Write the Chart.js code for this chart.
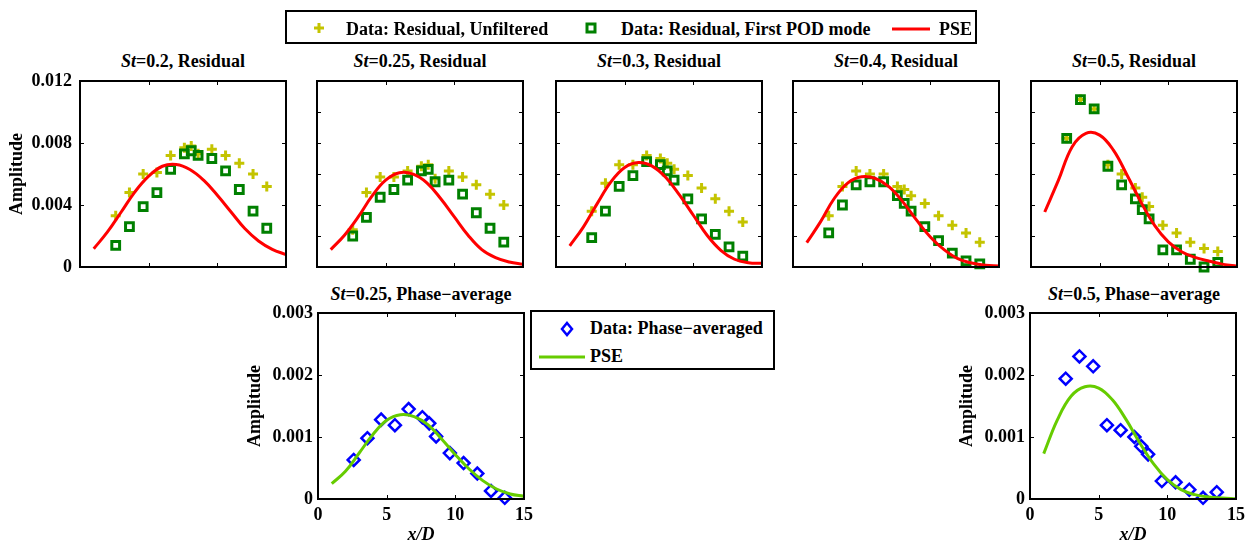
<!DOCTYPE html>
<html>
<head>
<meta charset="utf-8">
<script src="https://cdn.jsdelivr.net/npm/chart.js@4.4.1/dist/chart.umd.min.js"></script>
<style>
  body { margin: 0; width: 1247px; height: 544px; position: relative; overflow: hidden; background: #fff;
         font-family: "Liberation Serif", "Times New Roman", serif; font-weight: bold; color: #000; }
  canvas { position: absolute; }
  .title { position: absolute; font-size: 18px; white-space: nowrap; transform: translate(-50%, -50%); }
  .legend { position: absolute; border: 2px solid #000; background: #fff; box-sizing: border-box; z-index: 5; }
  .legend span, .legend svg { position: absolute; }
  .legend span { font-size: 18px; white-space: nowrap; transform: translateY(-50%); }
</style>
</head>
<body>

<div class="title" style="left:183px;top:61px"><i>St</i>=0.2, Residual</div>
<div class="title" style="left:420px;top:61px"><i>St</i>=0.25, Residual</div>
<div class="title" style="left:659px;top:61px"><i>St</i>=0.3, Residual</div>
<div class="title" style="left:896px;top:61px"><i>St</i>=0.4, Residual</div>
<div class="title" style="left:1134px;top:61px"><i>St</i>=0.5, Residual</div>
<div class="title" style="left:421px;top:294px"><i>St</i>=0.25, Phase−average</div>
<div class="title" style="left:1134px;top:294px"><i>St</i>=0.5, Phase−average</div>

<div class="legend" style="left:285px;top:10px;width:692px;height:34px">
  <svg style="left:26px;top:10px" width="12" height="12"><path d="M6 1V11M1 6H11" stroke="#c4c400" stroke-width="3"/></svg>
  <span style="left:59px;top:17px">Data: Residual, Unfiltered</span>
  <svg style="left:298px;top:10px" width="12" height="12"><rect x="2" y="2" width="8" height="8" fill="none" stroke="#008000" stroke-width="3"/></svg>
  <span style="left:334px;top:17px">Data: Residual, First POD mode</span>
  <svg style="left:605px;top:15px" width="38" height="4"><path d="M0 2H38" stroke="#ff0000" stroke-width="3"/></svg>
  <span style="left:652px;top:17px">PSE</span>
</div>

<div class="legend" style="left:530px;top:310px;width:245px;height:60px">
  <svg style="left:28px;top:9px" width="14" height="16"><polygon points="7,2 12,8 7,14 2,8" fill="none" stroke="#0000ff" stroke-width="2.5"/></svg>
  <span style="left:58px;top:16px">Data: Phase−averaged</span>
  <svg style="left:7px;top:43px" width="46" height="4"><path d="M0 2H46" stroke="#66cc00" stroke-width="3"/></svg>
  <span style="left:58px;top:44px">PSE</span>
</div>

<canvas id="p1" width="310" height="232"></canvas>
<canvas id="p2" width="310" height="232"></canvas>
<canvas id="p3" width="310" height="232"></canvas>
<canvas id="p4" width="310" height="232"></canvas>
<canvas id="p5" width="310" height="232"></canvas>
<canvas id="p6" width="310" height="261"></canvas>
<canvas id="p7" width="310" height="261"></canvas>

<script>
// measurement stations (x/D) and PSE sampling points
const dataX = [2.6, 3.6, 4.6, 5.6, 6.6, 7.6, 8.1, 8.6, 9.6, 10.6, 11.6, 12.6, 13.6]
const pseX = [1, 2, 3, 4, 5, 6, 7, 8, 9, 10, 11, 12, 13, 14, 15]

// St = 0.2, residual
const st02Unfiltered = [0.0033, 0.0048, 0.0060, 0.0061, 0.0072, 0.0077, 0.0078, 0.0073, 0.0076, 0.0072, 0.0067, 0.0060, 0.0052]
const st02Pod = [0.0014, 0.0026, 0.0039, 0.0048, 0.0063, 0.0073, 0.0075, 0.0072, 0.0070, 0.0062, 0.0050, 0.0036, 0.0025]
const st02Pse = [0.00118, 0.00226, 0.00355, 0.00485, 0.00586, 0.0065, 0.00661, 0.00629, 0.0056, 0.00463, 0.00355, 0.00248, 0.00168, 0.00114, 0.0008]

// St = 0.25, residual
const st025Unfiltered = [0.0024, 0.0048, 0.0058, 0.0058, 0.0062, 0.0065, 0.0066, 0.0057, 0.0062, 0.0058, 0.0053, 0.0047, 0.0040]
const st025Pod = [0.0020, 0.0032, 0.0045, 0.0050, 0.0056, 0.0062, 0.0063, 0.0055, 0.0056, 0.0047, 0.0035, 0.0025, 0.0016]
const st025Pse = [0.00112, 0.00205, 0.00323, 0.00457, 0.0056, 0.00608, 0.00599, 0.00543, 0.00442, 0.00323, 0.00205, 0.00112, 0.0006, 0.00032, 0.00017]

// St = 0.3, residual
const st03Unfiltered = [0.0036, 0.0054, 0.0066, 0.0066, 0.0072, 0.0070, 0.0067, 0.0063, 0.0059, 0.0051, 0.0044, 0.0036, 0.0029]
const st03Pod = [0.0019, 0.0036, 0.0052, 0.0059, 0.0068, 0.0066, 0.0062, 0.0056, 0.0044, 0.0031, 0.0021, 0.0013, 0.0007]
const st03Pse = [0.00136, 0.00259, 0.00409, 0.00549, 0.00642, 0.00674, 0.00651, 0.00577, 0.00463, 0.00334, 0.00205, 0.00108, 0.0005, 0.00028, 0.00024]

// St = 0.4, residual
const st04Unfiltered = [0.0033, 0.0052, 0.0062, 0.0060, 0.0060, 0.0052, 0.0050, 0.0046, 0.0041, 0.0033, 0.0027, 0.0022, 0.0016]
const st04Pod = [0.0022, 0.0040, 0.0053, 0.0055, 0.0055, 0.0046, 0.0041, 0.0036, 0.0026, 0.0017, 0.0009, 0.0004, 0.0002]
const st04Pse = [0.00157, 0.00291, 0.00442, 0.00543, 0.00582, 0.00571, 0.00517, 0.0042, 0.00302, 0.00194, 0.00112, 0.00054, 0.00026, 0.00011, 0.00006]

// St = 0.5, residual
const st05Unfiltered = [0.0083, 0.0108, 0.0102, 0.0066, 0.0060, 0.0051, 0.0045, 0.0039, 0.0027, 0.0022, 0.0016, 0.0012, 0.0010]
const st05Pod = [0.0083, 0.0108, 0.0102, 0.0065, 0.0053, 0.0044, 0.0037, 0.0031, 0.0011, 0.0011, 0.0005, 0.0000, 0.0003]
const st05Pse = [0.00355, 0.0056, 0.00776, 0.00862, 0.00851, 0.00754, 0.00592, 0.0042, 0.00269, 0.00162, 0.00097, 0.0006, 0.00037, 0.00017, 0.00005]

// phase-averaged
const phase025 = [0.00063, 0.00098, 0.00128, 0.00119, 0.00145, 0.00132, 0.00122, 0.00101, 0.00074, 0.00058, 0.00041, 0.00013, 0.00002]
const phase025Pse = [0.000247, 0.000446, 0.000742, 0.00104, 0.00127, 0.00136, 0.00133, 0.0012, 0.000968, 0.000715, 0.000484, 0.000296, 0.000161, 0.000081, 0.000043]
const phase05 = [0.00194, 0.0023, 0.00214, 0.00119, 0.00111, 0.0010, 0.00085, 0.00072, 0.00029, 0.00027, 0.00015, 0.00002, 0.00011]
const phase05Pse = [0.000731, 0.00128, 0.00166, 0.00181, 0.00179, 0.0016, 0.00128, 0.000903, 0.000565, 0.000312, 0.000151, 0.00007, 0.000032, 0.000016, 0.000005]

// ticks
const residualTicks = [0, 0.002, 0.004, 0.006, 0.008, 0.010, 0.012]
const residualMajorTicks = [0, 0.004, 0.008, 0.012]
const residualLabels = ['0', '0.004', '0.008', '0.012']
const phaseTicks = [0, 0.001, 0.002, 0.003]
const phaseLabels = ['0', '0.001', '0.002', '0.003']
const xTicks = [0, 5, 10, 15]
const xLabels = ['0', '5', '10', '15']

Chart.defaults.font.family = "'Liberation Serif', 'Times New Roman', serif"
Chart.defaults.font.weight = 'bold'
Chart.defaults.font.size = 18
Chart.defaults.color = '#000'

const PLOT_W = 206
const PAD_TOP = 24

// box round the axes plus small inward tick marks, matlab style
const framePlugin = {
  id: 'frame',
  afterDatasetsDraw(chart) {
    const { ctx, chartArea: a, scales: { x, y } } = chart
    ctx.save()
    ctx.strokeStyle = '#000'
    ctx.lineWidth = 1
    ctx.beginPath()
    x.ticks.forEach(t => {
      const px = Math.round(x.getPixelForValue(t.value)) + 0.5
      ctx.moveTo(px, a.bottom); ctx.lineTo(px, a.bottom - 4)
      ctx.moveTo(px, a.top); ctx.lineTo(px, a.top + 4)
    })
    y.ticks.forEach(t => {
      const py = Math.round(y.getPixelForValue(t.value)) + 0.5
      ctx.moveTo(a.left, py); ctx.lineTo(a.left + 4, py)
      ctx.moveTo(a.right, py); ctx.lineTo(a.right - 4, py)
    })
    ctx.stroke()
    ctx.lineWidth = 2
    ctx.strokeRect(a.left, a.top, a.right - a.left, a.bottom - a.top)
    ctx.restore()
  }
}

const toPoints = (xs, ys) => xs.map((x, i) => ({ x: x, y: ys[i] }))

function markerSet(ys, style, color, radius, width) {
  return {
    data: toPoints(dataX, ys),
    showLine: false,
    pointStyle: style,
    pointRadius: radius,
    pointBorderWidth: width,
    pointBorderColor: color,
    pointBackgroundColor: 'rgba(0,0,0,0)',
    clip: false
  }
}

function pseSet(ys, color, order) {
  return {
    data: toPoints(pseX, ys),
    borderColor: color,
    borderWidth: 3,
    pointRadius: 0,
    tension: 0.4,
    order: order
  }
}

function makePanel(id, plotLeft, plotTop, datasets, opts) {
  const canvas = document.getElementById(id)
  canvas.style.left = (plotLeft - 80) + 'px'
  canvas.style.top = (plotTop - PAD_TOP) + 'px'
  const xHeight = opts.xTitle ? 51 : 22

  return new Chart(canvas, {
    type: 'line',
    data: { datasets: datasets },
    options: {
      responsive: false,
      animation: false,
      events: [],
      layout: { padding: { top: PAD_TOP, right: canvas.width - 80 - PLOT_W, left: 0, bottom: 0 } },
      plugins: { legend: { display: false }, tooltip: { enabled: false } },
      scales: {
        x: {
          type: 'linear',
          min: 0,
          max: 15,
          grid: { display: false, drawTicks: false },
          border: { display: false },
          afterBuildTicks: s => { s.ticks = (opts.xTicks || [5, 10]).map(v => ({ value: v })) },
          afterFit: s => { s.height = xHeight },
          ticks: {
            display: !!opts.xTitle,
            autoSkip: false,
            maxRotation: 0,
            padding: 6,
            callback: (v, i) => xLabels[i]
          },
          title: {
            display: !!opts.xTitle,
            text: 'x/D',
            font: { style: 'italic', weight: 'bold', size: 18 },
            padding: { top: 4, bottom: 4 }
          }
        },
        y: {
          min: 0,
          max: opts.yMax,
          grid: { display: false, drawTicks: false },
          border: { display: false },
          afterBuildTicks: s => { s.ticks = opts.yTicks.map(v => ({ value: v })) },
          afterFit: s => { s.width = 80 },
          ticks: {
            display: !!opts.yLabels,
            autoSkip: false,
            padding: opts.yPad || 6,
            callback: (v, i) => opts.yLabels ? opts.yLabels[i] : ''
          },
          title: {
            display: !!opts.yLabels,
            text: 'Amplitude',
            font: { weight: 'bold', size: 18 },
            padding: { top: 7, bottom: 0 }
          }
        }
      }
    },
    plugins: [framePlugin]
  })
}

const yellow = '#c4c400'
const green = '#008000'
const red = '#ff0000'

function residualSets(unfiltered, pod, pse) {
  return [
    Object.assign(markerSet(unfiltered, 'cross', yellow, 5, 3), { order: 3 }),
    Object.assign(markerSet(pod, 'rect', green, 5.5, 3), { order: 2 }),
    pseSet(pse, red, 1)
  ]
}

function phaseSets(points, pse) {
  return [
    Object.assign(markerSet(points, 'rectRot', '#0000ff', 6, 2.5), { order: 2 }),
    pseSet(pse, '#66cc00', 1)
  ]
}

document.addEventListener('DOMContentLoaded', () => {
  makePanel('p1', 80, 81, residualSets(st02Unfiltered, st02Pod, st02Pse),
    { yMax: 0.012, yTicks: residualMajorTicks, yLabels: residualLabels, yPad: 8 })
  makePanel('p2', 317, 81, residualSets(st025Unfiltered, st025Pod, st025Pse),
    { yMax: 0.012, yTicks: residualTicks })
  makePanel('p3', 556, 81, residualSets(st03Unfiltered, st03Pod, st03Pse),
    { yMax: 0.012, yTicks: residualTicks })
  makePanel('p4', 793, 81, residualSets(st04Unfiltered, st04Pod, st04Pse),
    { yMax: 0.012, yTicks: residualTicks })
  makePanel('p5', 1031, 81, residualSets(st05Unfiltered, st05Pod, st05Pse),
    { yMax: 0.012, yTicks: residualTicks })
  makePanel('p6', 318, 313, phaseSets(phase025, phase025Pse),
    { yMax: 0.003, yTicks: phaseTicks, yLabels: phaseLabels, xTicks: xTicks, xTitle: true, yPad: 5 })
  makePanel('p7', 1030, 313, phaseSets(phase05, phase05Pse),
    { yMax: 0.003, yTicks: phaseTicks, yLabels: phaseLabels, xTicks: xTicks, xTitle: true, yPad: 5 })
})
</script>
</body>
</html>
